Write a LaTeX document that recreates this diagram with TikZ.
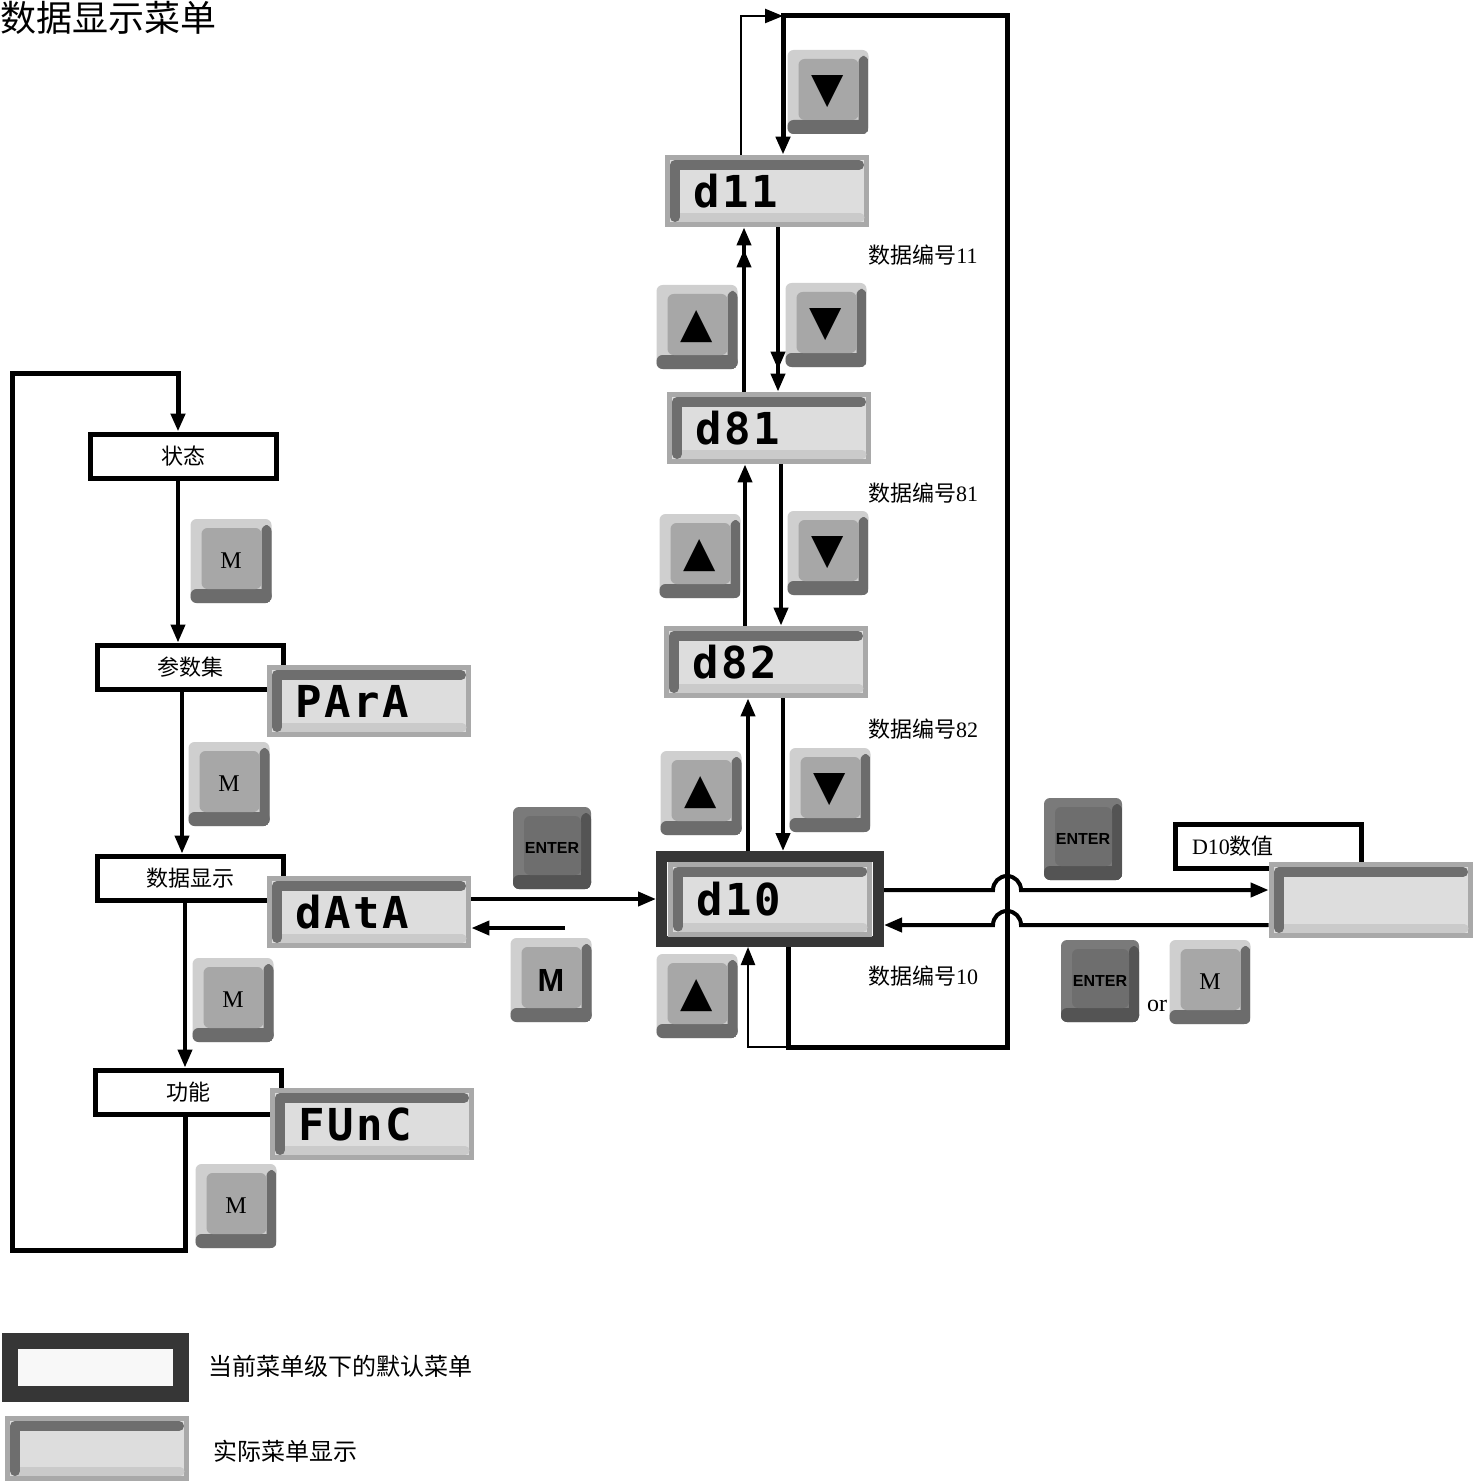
\documentclass[tikz,border=0pt]{standalone}
\usepackage{fontspec}
\setmainfont{Liberation Serif}
\newfontfamily\cjk{Noto Sans CJK SC}
\newfontfamily\lcdfont[LetterSpace=6]{DejaVu Sans Mono}
\newfontfamily\keyfont{Liberation Sans}
\newfontfamily\symfont{DejaVu Sans}
\usepackage{tikz}
\usetikzlibrary{arrows.meta}

\definecolor{keylight}{HTML}{CFCFCF}
\definecolor{keyface}{HTML}{A7A7A7}
\definecolor{keydark}{HTML}{6C6C6C}
\definecolor{enterlight}{HTML}{7A7A7A}
\definecolor{enterface}{HTML}{6E6E6E}
\definecolor{enterdark}{HTML}{545454}
\definecolor{lcdedge}{HTML}{A9A9A9}
\definecolor{lcdbar}{HTML}{6E6E6E}
\definecolor{lcdface}{HTML}{DDDDDD}
\definecolor{lcdstrip}{HTML}{CACACA}
\definecolor{curdark}{HTML}{363636}
\definecolor{curfill}{HTML}{F8F8F8}

\newcommand\ppb{path picture bounding box}
% 按键的立体效果
\newcommand{\keyshade}[2]{%
  \fill[#1] (\ppb.south west) rectangle ([yshift=7pt]\ppb.south east);
  \fill[#1] ([xshift=-5pt,yshift=-3pt]\ppb.north east) rectangle (\ppb.south east);
  \fill[#2] ([xshift=5.5pt,yshift=-4.5pt]\ppb.north west) rectangle ([xshift=-5pt,yshift=7pt]\ppb.south east);}
% 显示屏
\newcommand{\lcdshade}{%
  \fill[lcdface] ([xshift=2.5pt,yshift=-2.5pt]\ppb.north west) rectangle ([xshift=-2.5pt,yshift=2.5pt]\ppb.south east);
  \draw[lcdstrip,line width=4.5pt,line cap=round] ([xshift=6pt,yshift=4.75pt]\ppb.south west) -- ([xshift=-4.5pt,yshift=4.75pt]\ppb.south east);
  \draw[lcdbar,line width=5pt,line cap=round,line join=round] ([xshift=5pt,yshift=5pt]\ppb.south west) -- ([xshift=5pt,yshift=-5pt]\ppb.north west) -- ([xshift=-5pt,yshift=-5pt]\ppb.north east);}

\begin{document}
\begin{tikzpicture}[x=0.5pt,y=-0.5pt,
    menubox/.style={draw,line width=2.5pt,fill=white,minimum width=93pt,minimum height=22pt,inner sep=0pt,font=\cjk\fontsize{11}{11}\selectfont},
    curbox/.style={draw=curdark,fill=curfill,inner sep=0pt},
    lcd/.style={rectangle,fill=lcdedge,minimum height=36pt,inner sep=0pt,inner xsep=14pt,text width=74pt,align=left,path picture={\lcdshade},font=\lcdfont\bfseries\fontsize{22}{22}\selectfont},
    key/.style={rectangle,rounded corners=3pt,fill=keylight,minimum width=40.5pt,minimum height=42pt,inner sep=0pt,path picture={\keyshade{keydark}{keyface}},font=\fontsize{12}{12}\selectfont},
    arrowkey/.style={key,font=\symfont\fontsize{21}{21}\selectfont},
    boldkey/.style={key,font=\keyfont\bfseries\fontsize{16}{16}\selectfont},
    enterkey/.style={key,fill=enterlight,minimum width=39pt,minimum height=41pt,path picture={\keyshade{enterdark}{enterface}},font=\keyfont\bfseries\fontsize{8}{8}\selectfont},
    numtag/.style={font=\fontsize{11}{11}\selectfont,inner sep=0pt},
    flow/.style={line width=2pt,-{Triangle[length=9pt,width=7pt]}},
    flowtwo/.style={line width=2pt,-{Triangle[length=9pt,width=7pt,sep=2pt]Triangle[length=9pt,width=7pt]}},
    bigloop/.style={line width=2.5pt},
    thinloop/.style={line width=1.2pt,-{Triangle[length=9pt,width=7pt]}}]
  \useasboundingbox (0,0) rectangle (1472,1481);

  % 标题
  \node[anchor=west,inner sep=0pt,font=\cjk\fontsize{18}{18}\selectfont] (title) at (0,18) {数据显示菜单};

  % --- 左侧菜单 ---
  \node[menubox] (zt) at (183,456) {状态};
  \node[menubox] (csj) at (190,667) {参数集};
  \node[menubox] (sjxs) at (190,878) {数据显示};
  \node[menubox] (gn) at (188,1092) {功能};

  \node[lcd] (para) at (369,701) {PArA};
  \node[lcd] (data) at (369,912) {dAtA};
  \node[lcd] (func) at (372,1124) {FUnC};

  \node[key] (m1) at (231,561) {M};
  \node[key] (m2) at (229,784) {M};
  \node[key] (m3) at (233,1000) {M};
  \node[key] (m4) at (236,1206) {M};

  \draw[flow] ([xshift=-2.5pt]zt.south) -- ([xshift=-6pt]csj.north);
  \draw[flow] ([xshift=-4pt]csj.south) -- ([xshift=-4pt]sjxs.north);
  \draw[flow] ([xshift=-2.5pt]sjxs.south) -- ([xshift=-1.5pt]gn.north);
  \draw[bigloop,-{Triangle[length=9pt,width=7pt]}] ([xshift=-1.5pt]gn.south) -- (185,1250) -- (12,1250) -- (12,373) -- (178,373) -- ([xshift=-2.5pt]zt.north);

  % --- 数据编号 ---
  \node[curbox,line width=5.5pt,minimum width=108.5pt,minimum height=42.5pt] (d10box) at (770,899) {};
  \node[lcd,minimum height=37.5pt] (d10) at (770,899) {d10};
  \node[lcd] (d82) at (766,662) {d82};
  \node[lcd] (d81) at (769,428) {d81};
  \node[lcd] (d11) at (767,191) {d11};

  \node[numtag] (t11) at (923,255) {{\cjk 数据编号}11};
  \node[numtag] (t81) at (923,493) {{\cjk 数据编号}81};
  \node[numtag] (t82) at (923,729) {{\cjk 数据编号}82};
  \node[numtag] (t10) at (923,976) {{\cjk 数据编号}10};

  \node[arrowkey] (dntop) at (828,92) {▼};
  \node[arrowkey] (up1) at (697,327) {▲};
  \node[arrowkey] (dn1) at (826,325) {▼};
  \node[arrowkey] (up2) at (700,556) {▲};
  \node[arrowkey] (dn2) at (828,553) {▼};
  \node[arrowkey] (up3) at (701,793) {▲};
  \node[arrowkey] (dn3) at (830,790) {▼};
  \node[arrowkey] (up4) at (697,996) {▲};

  \node[enterkey] (ent1) at (552,848) {ENTER};
  \node[boldkey] (mb) at (551,980) {M};

  \draw[flow] (data.east |- d10box.west) -- (d10box.west);
  \coordinate (mret) at (565,928);
  \draw[flow] (mret) -- (mret -| data.east);

  \draw[flow] ([xshift=-11pt]d10box.north) -- ([xshift=-9pt]d82.south);
  \draw[flow] ([xshift=8.5pt]d82.south) -- ([xshift=6.5pt]d10box.north);
  \draw[flow] ([xshift=-10.5pt]d82.north) -- ([xshift=-12pt]d81.south);
  \draw[flow] ([xshift=6pt]d81.south) -- ([xshift=7.5pt]d82.north);
  \draw[flowtwo] ([xshift=-12.5pt]d81.north) -- ([xshift=-11.5pt]d11.south);
  \draw[flowtwo] ([xshift=5.5pt]d11.south) -- ([xshift=4.5pt]d81.north);

  % 循环
  \coordinate (topjoin) at (783,16);
  \coordinate (botjoin) at (788,1047);
  \draw[bigloop,-{Triangle[length=9pt,width=7pt]}] ([xshift=9pt]d10box.south) -- (788,1047) -- (1007,1047) -- (1007,16) -- (783,16) -- ([xshift=8pt]d11.north);
  \draw[thinloop] ([xshift=-13pt]d11.north) -- (741,16) -- (topjoin);
  \draw[thinloop] (botjoin) -- (748,1047) -- ([xshift=-11pt]d10box.south);

  % --- 数值 ---
  \node[menubox,text width=76pt,align=left,font=\fontsize{11}{11}\selectfont] (valtag) at (1268,846) {D10{\cjk 数值}};
  \node[lcd,minimum height=38pt] (val) at (1371,900) {};
  \node[enterkey] (ent2) at (1083,839) {ENTER};
  \node[enterkey] (ent3) at (1100,981) {ENTER};
  \node[font=\fontsize{12}{12}\selectfont,inner sep=0pt] (ortxt) at (1157,1006) {or};
  \node[key] (m5) at (1210,982) {M};

  \draw[flow] ([yshift=4.5pt]d10box.east) -- (993,890) arc[start angle=180,end angle=0,radius=7pt] -- ([yshift=5pt]val.west);
  \draw[flow] ([yshift=-12.5pt]val.west) -- (1021,925) arc[start angle=0,end angle=180,radius=7pt] -- ([yshift=-13pt]d10box.east);

  % --- 图例 ---
  \node[curbox,line width=8pt,minimum width=85.5pt,minimum height=26.5pt] (lgcur) at (95.5,1367.5) {};
  \node[lcd,minimum height=32.5pt,text width=64pt] (lglcd) at (97,1448.5) {};
  \node[anchor=west,inner sep=0pt,font=\cjk\fontsize{12}{12}\selectfont] (lgcurtxt) at (208,1366) {当前菜单级下的默认菜单};
  \node[anchor=west,inner sep=0pt,font=\cjk\fontsize{12}{12}\selectfont] (lglcdtxt) at (213,1451) {实际菜单显示};
\end{tikzpicture}
\end{document}
